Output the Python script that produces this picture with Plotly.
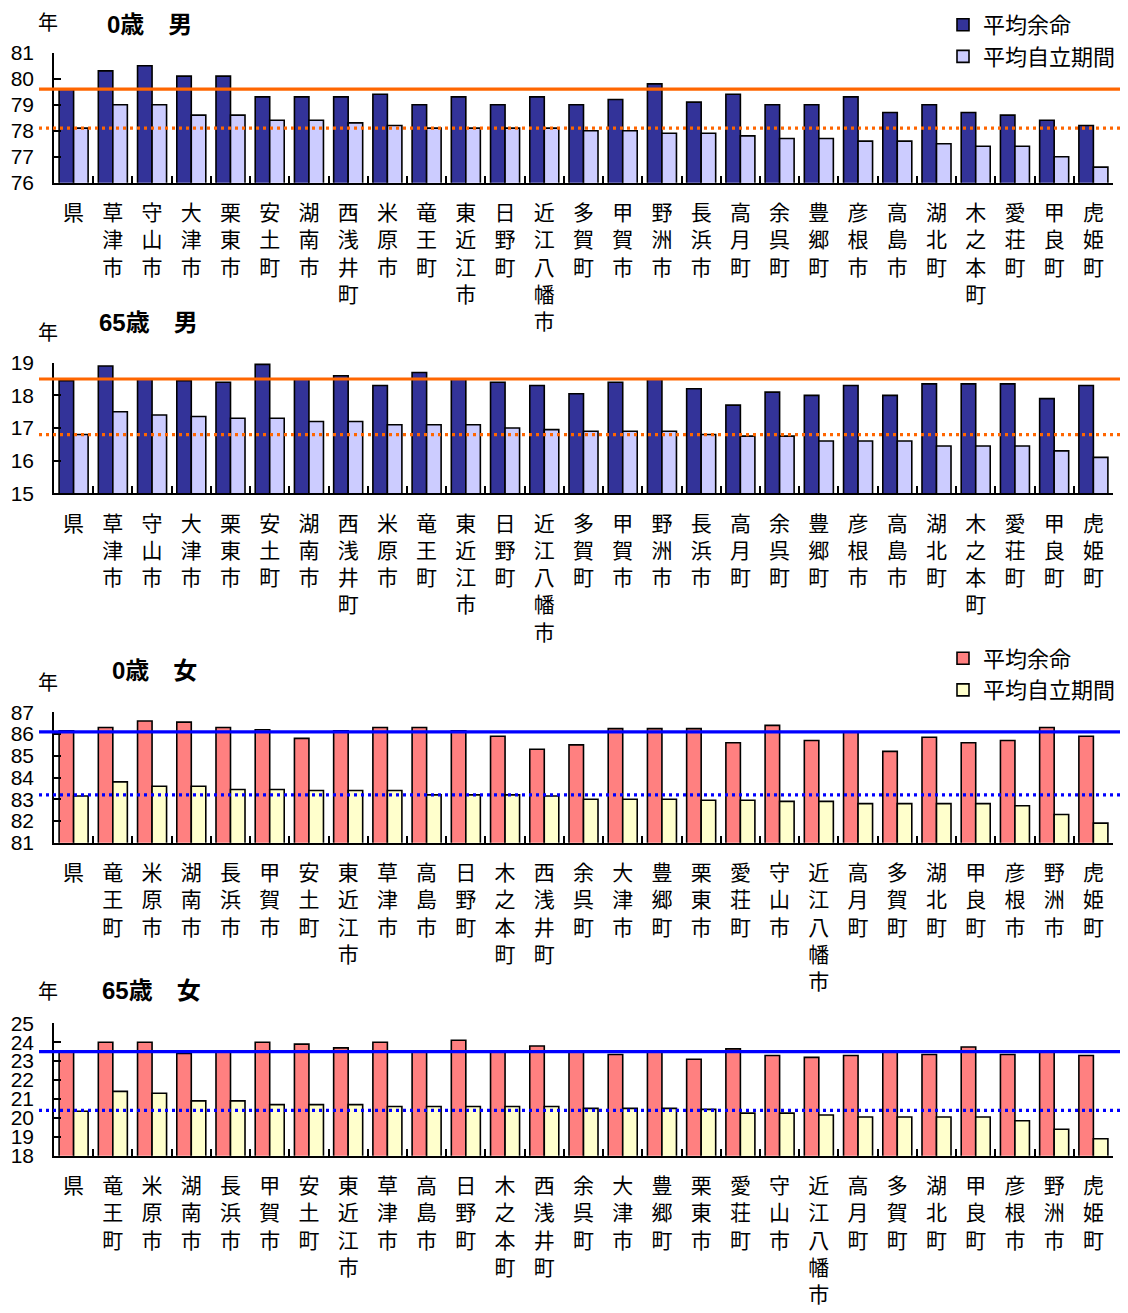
import plotly.graph_objects as go

# ---------------- data ----------------
male_areas = ["県", "草津市", "守山市", "大津市", "栗東市", "安土町", "湖南市", "西浅井町", "米原市",
              "竜王町", "東近江市", "日野町", "近江八幡市", "多賀町", "甲賀市", "野洲市", "長浜市",
              "高月町", "余呉町", "豊郷町", "彦根市", "高島市", "湖北町", "木之本町", "愛荘町",
              "甲良町", "虎姫町"]
female_areas = ["県", "竜王町", "米原市", "湖南市", "長浜市", "甲賀市", "安土町", "東近江市", "草津市",
                "高島市", "日野町", "木之本町", "西浅井町", "余呉町", "大津市", "豊郷町", "栗東市",
                "愛荘町", "守山市", "近江八幡市", "高月町", "多賀町", "湖北町", "甲良町", "彦根市",
                "野洲市", "虎姫町"]

m0_life = [79.6, 80.3, 80.5, 80.1, 80.1, 79.3, 79.3, 79.3, 79.4, 79.0, 79.3, 79.0, 79.3, 79.0,
           79.2, 79.8, 79.1, 79.4, 79.0, 79.0, 79.3, 78.7, 79.0, 78.7, 78.6, 78.4, 78.2]
m0_indep = [78.1, 79.0, 79.0, 78.6, 78.6, 78.4, 78.4, 78.3, 78.2, 78.1, 78.1, 78.1, 78.1, 78.0,
            78.0, 77.9, 77.9, 77.8, 77.7, 77.7, 77.6, 77.6, 77.5, 77.4, 77.4, 77.0, 76.6]
m65_life = [18.45, 18.9, 18.5, 18.45, 18.4, 18.95, 18.5, 18.6, 18.3, 18.7, 18.5, 18.4, 18.3, 18.05,
            18.4, 18.5, 18.2, 17.7, 18.1, 18.0, 18.3, 18.0, 18.35, 18.35, 18.35, 17.9, 18.3]
m65_indep = [16.8, 17.5, 17.4, 17.35, 17.3, 17.3, 17.2, 17.2, 17.1, 17.1, 17.1, 17.0, 16.95, 16.9,
             16.9, 16.9, 16.8, 16.75, 16.75, 16.6, 16.6, 16.6, 16.45, 16.45, 16.45, 16.3, 16.1]
f0_life = [86.15, 86.3, 86.6, 86.55, 86.3, 86.2, 85.8, 86.15, 86.3, 86.3, 86.15, 85.9, 85.3, 85.5,
           86.25, 86.25, 86.25, 85.6, 86.4, 85.7, 86.1, 85.2, 85.85, 85.6, 85.7, 86.3, 85.9]
f0_indep = [83.15, 83.8, 83.6, 83.6, 83.45, 83.45, 83.4, 83.4, 83.4, 83.2, 83.2, 83.2, 83.15, 83.0,
            83.0, 83.0, 82.95, 82.95, 82.9, 82.9, 82.8, 82.8, 82.8, 82.8, 82.7, 82.3, 81.9]
f65_life = [23.55, 24.0, 24.0, 23.4, 23.55, 24.0, 23.9, 23.7, 24.0, 23.55, 24.1, 23.55, 23.8, 23.55,
            23.35, 23.55, 23.1, 23.65, 23.3, 23.2, 23.3, 23.55, 23.35, 23.75, 23.35, 23.55, 23.3]
f65_indep = [20.35, 21.4, 21.3, 20.9, 20.9, 20.7, 20.7, 20.7, 20.6, 20.6, 20.6, 20.6, 20.6, 20.5,
             20.5, 20.5, 20.45, 20.25, 20.25, 20.15, 20.05, 20.05, 20.05, 20.05, 19.85, 19.4, 18.9]

# reference (県) lines: [solid = 平均余命, dotted = 平均自立期間]
ref_m0 = [79.6, 78.1]
ref_m65 = [18.5, 16.8]
ref_f0 = [86.1, 83.2]
ref_f65 = [23.5, 20.4]

y_ranges = [[76, 81], [15, 19], [81, 87], [18, 25]]
panel_titles = ["0歳　男", "65歳　男", "0歳　女", "65歳　女"]
series_names = ["平均余命", "平均自立期間"]

# ---------------- styles ----------------
W, H = 1128, 1313
OFF = 8  # page body margin in the browser
FONT = "Liberation Sans, Arial, Noto Sans CJK JP"
male_colors = ["#333399", "#CCCCFF"]
female_colors = ["#FF8080", "#FFFFCC"]
male_line = "#FF6600"
female_line = "#0000FF"


def px(x):
    return (x - OFF) / W


def py(y):
    return 1 - (y - OFF) / H


def vert(name):
    return "<br>".join(list(name))


panels = [
    (male_areas, m0_life, m0_indep, ref_m0, male_colors, male_line, "legend"),
    (male_areas, m65_life, m65_indep, ref_m65, male_colors, male_line, None),
    (female_areas, f0_life, f0_indep, ref_f0, female_colors, female_line, "legend2"),
    (female_areas, f65_life, f65_indep, ref_f65, female_colors, female_line, None),
]
# plot-area screen positions (top, bottom) for each panel
panel_px = [(52.7, 182.7), (362.7, 493.3), (712.3, 842.7), (1023.3, 1155.7)]
title_px = [((48, 22), (105, 25)), ((48, 331), (97, 322)), ((48, 681), (110, 670)), ((48, 991), (100, 990))]

fig = go.Figure()
layout = dict(
    width=W, height=H, margin=dict(l=0, r=0, t=0, b=0, autoexpand=False),
    paper_bgcolor="white", plot_bgcolor="white",
    barmode="group", bargap=0.26, bargroupgap=0,
    font=dict(family=FONT, size=21, color="black"),
    showlegend=True,
)
shapes = []
annotations = []

for i, (areas, life, indep, ref, colors, lcolor, leg) in enumerate(panels):
    n = i + 1
    xa = "x" if n == 1 else f"x{n}"
    ya = "y" if n == 1 else f"y{n}"
    labels = [vert(a) for a in areas]
    for vals, col, nm in zip([life, indep], colors, series_names):
        fig.add_trace(go.Bar(
            x=labels, y=vals, name=nm, xaxis=xa, yaxis=ya,
            marker=dict(color=col, line=dict(color="black", width=1.6)),
            showlegend=leg is not None, legend=leg if leg else "legend",
        ))
    top, bot = panel_px[i]
    layout[f"xaxis{'' if n == 1 else n}"] = dict(
        domain=[px(54), px(1113)], anchor=ya, type="category", automargin=False,
        showline=True, linecolor="black", linewidth=2,
        ticks="inside", ticklen=7, tickwidth=1.5, tickcolor="black",
        tickson="boundaries", ticklabelstandoff=10,
        tickfont=dict(family="Noto Sans CJK JP", size=21, color="black"),
        showgrid=False, zeroline=False, fixedrange=True,
    )
    layout[f"yaxis{'' if n == 1 else n}"] = dict(
        domain=[py(bot), py(top)], anchor=xa, range=y_ranges[i], dtick=1, automargin=False,
        showline=True, linecolor="black", linewidth=1.5,
        ticks="inside", ticklen=7, tickwidth=1.5, tickcolor="black",
        ticklabelstandoff=14,
        tickfont=dict(family="Liberation Sans, Arial", size=21, color="black"),
        showgrid=False, zeroline=False, fixedrange=True,
    )
    # reference lines
    shapes.append(dict(type="line", xref="paper", yref=ya, x0=px(39), x1=1.0,
                       y0=ref[0], y1=ref[0], line=dict(color=lcolor, width=3.2), layer="above"))
    shapes.append(dict(type="line", xref="paper", yref=ya, x0=px(39), x1=1.0,
                       y0=ref[1], y1=ref[1], line=dict(color=lcolor, width=3.2, dash="3px,4px"),
                       layer="above"))
    (ux, uy), (tx, ty) = title_px[i]
    annotations.append(dict(text="年", xref="paper", yref="paper", x=px(ux), y=py(uy),
                            xanchor="center", yanchor="middle", showarrow=False,
                            font=dict(family="Noto Sans CJK JP", size=20, color="black")))
    annotations.append(dict(text="<b>" + panel_titles[i] + "</b>", xref="paper", yref="paper",
                            x=px(tx), y=py(ty), xanchor="left", yanchor="middle", showarrow=False,
                            font=dict(family="Liberation Sans, Noto Sans CJK JP", size=24, color="black")))

legend_style = dict(xanchor="left", yanchor="top", bgcolor="rgba(0,0,0,0)", borderwidth=0,
                    font=dict(family="Noto Sans CJK JP", size=22, color="black"),
                    itemwidth=30, traceorder="normal", tracegroupgap=0)
layout["legend"] = dict(x=px(943), y=py(4), **legend_style)
layout["legend2"] = dict(x=px(943), y=py(637.5), **legend_style)
layout["shapes"] = shapes
layout["annotations"] = annotations

fig.update_layout(**layout)
fig.write_html("out.html")
